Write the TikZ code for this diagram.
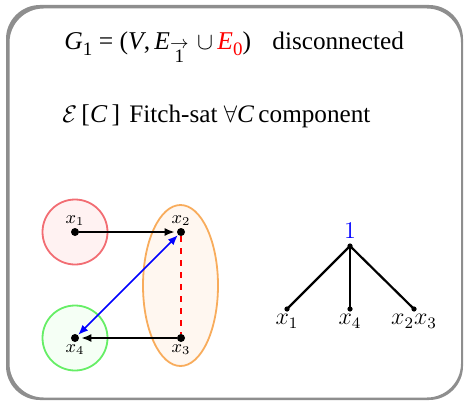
\documentclass[tikz,border=0pt]{standalone}
\usepackage[no-math]{fontspec}
\setmainfont{Liberation Serif}
\usepackage{amsmath}
\usetikzlibrary{arrows.meta, positioning, shapes.geometric}
\definecolor{frameGray}{HTML}{8E8E8E}
\definecolor{blobRed}{HTML}{F26D73}
\definecolor{blobGreen}{HTML}{66EE66}
\definecolor{blobOrange}{HTML}{F8AC5C}
\newcommand{\subone}{\raisebox{-0.45ex}{\fontsize{9.5}{10}\selectfont 1}}
\tikzset{
  vtx/.style={circle, fill=black, inner sep=0pt, minimum size=4pt},
  leafDot/.style={circle, fill=black, inner sep=0pt, minimum size=2.6pt},
  vlabel/.style={font=\fontsize{9}{10}\selectfont, inner sep=1pt},
  tlabel/.style={font=\fontsize{12}{14}\selectfont, inner sep=1pt},
  arrowK/.style={-{Latex[length=5pt, width=4pt]}, thick, shorten >=1pt},
  arrowB/.style={{Latex[length=5pt, width=4pt]}-{Latex[length=5pt, width=4pt]}, blue, thick},
  blobR/.style={circle, draw=blobRed, fill=red!5, line width=0.9pt, minimum size=32.5pt},
  blobG/.style={circle, draw=blobGreen, fill=green!4, line width=0.9pt, minimum size=32.5pt},
  blobO/.style={ellipse, draw=blobOrange, fill=orange!6, line width=0.9pt,
                minimum width=37.5pt, minimum height=80.5pt},
  treeEdge/.style={line width=1.1pt},
  headText/.style={anchor=base west, inner sep=0pt, font=\fontsize{12.8}{15}\selectfont},
  headWord/.style={anchor=base west, inner sep=0pt, font=\fontsize{12.6}{15}\selectfont},
}

\begin{document}
\begin{tikzpicture}[x=0.5pt, y=-0.5pt]
    \useasboundingbox (0,0) rectangle (464,401);
    \fill[frameGray, even odd rule, rounded corners=17pt]
      (6,5) rectangle (463,400) (9.5,8.5) rectangle (461,397.5);

    % header
    \node[headText] (head1) at (64,50)
      {\textit{G}\subone\ = (\textit{V},\,\textit{E}\raisebox{-1.05ex}{\shortstack{$\scriptstyle\rightarrow$\\[-2.5pt]{\fontsize{9.5}{10}\selectfont 1}}}\,\,$\cup$\,\textcolor{red}{\textit{E}\raisebox{-0.45ex}{\fontsize{9.5}{10}\selectfont 0}})};
    \node[headWord] (head1b) at (272,50) {disconnected};
    \node[headText] (head2) at (62,122) {$\mathcal{E}$\,[\textit{C}\,]};
    \node[headWord] (head2b) at (129,122) {Fitch-sat $\forall$\textit{C}\,component};

    % left graph
    \node[blobR] (cR) at (75,232) {};
    \node[blobG] (cG) at (75,338) {};
    \node[blobO] (cO) at (180.5,285.5) {};
    \node[vtx] (v1) at (75,232) {};
    \node[vtx] (v2) at (181,232) {};
    \node[vtx] (v3) at (181,338) {};
    \node[vtx] (v4) at (75,338) {};
    \node[vlabel, above=0pt of v1] {$x_1$};
    \node[vlabel, above=0pt of v2] {$x_2$};
    \node[vlabel, below=0pt of v3] {$x_3$};
    \node[vlabel, below=0pt of v4] {$x_4$};
    \draw[arrowK] (v1) -- (v2);
    \draw[arrowK] (v3) -- (v4);
    \draw[arrowB] (v2) -- (v4);
    \draw[red, thick, dashed] (v2) -- (v3);

    % tree
    \node[leafDot] (root) at (350,246) {};
    \node[tlabel, text=blue, above=1pt of root] {$1$};
    \node[leafDot] (l1) at (287,309) {};
    \node[leafDot] (l2) at (350,309) {};
    \node[leafDot] (l3) at (414,309) {};
    \node[tlabel, below=0pt of l1] {$x_1$};
    \node[tlabel, below=0pt of l2] {$x_4$};
    \node[tlabel, below=0pt of l3] {$x_2x_3$};
    \draw[treeEdge] (root.center) -- (l1.center);
    \draw[treeEdge] (root.center) -- (l2.center);
    \draw[treeEdge] (root.center) -- (l3.center);
\end{tikzpicture}
\end{document}
